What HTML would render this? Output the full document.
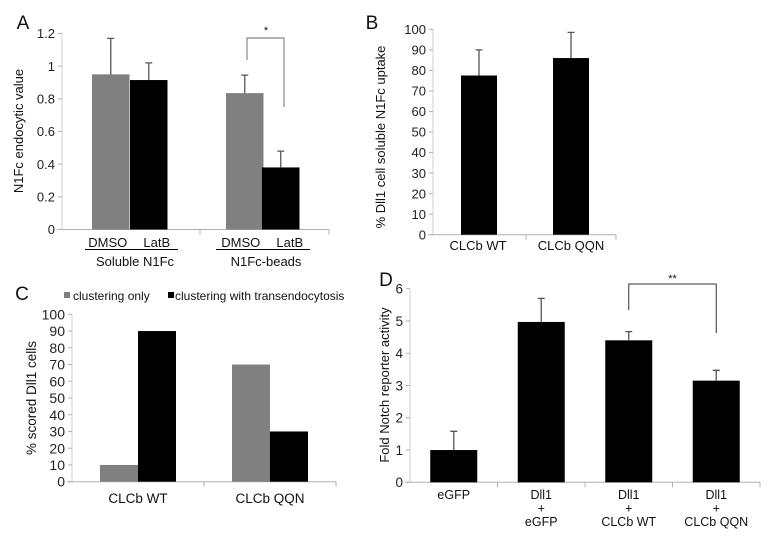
<!DOCTYPE html>
<html><head><meta charset="utf-8"><style>
html,body{margin:0;padding:0;background:#fff;}
svg{display:block;font-family:"Liberation Sans",Arial,sans-serif;}
</style></head><body>
<svg id="fig" width="770" height="542" viewBox="0 0 770 542" xmlns="http://www.w3.org/2000/svg">
<g id="pa"></g>
<g id="pb"></g>
<g id="pc"></g>
<g id="pd"></g>
</svg>
<script>
// Panel A data
const aCategories = ["DMSO", "LatB", "DMSO", "LatB"];
const aValues = [0.95, 0.915, 0.835, 0.38];
const aErrors = [1.17, 1.02, 0.945, 0.48];
const aTicks = ["0", "0.2", "0.4", "0.6", "0.8", "1", "1.2"];
// Panel B data
const bCategories = ["CLCb WT", "CLCb QQN"];
const bValues = [77.5, 86];
const bErrors = [90, 98.5];
const bTicks = ["0","10","20","30","40","50","60","70","80","90","100"];
// Panel C data
const cCategories = ["CLCb WT", "CLCb QQN"];
const cClusteringOnly = [10, 70];
const cTransendo = [90, 30];
const cTicks = ["0","10","20","30","40","50","60","70","80","90","100"];
// Panel D data
const dCategories = [["eGFP"], ["Dll1","+","eGFP"], ["Dll1","+","CLCb WT"], ["Dll1","+","CLCb QQN"]];
const dValues = [1.0, 4.97, 4.4, 3.15];
const dErrors = [1.58, 5.7, 4.67, 3.47];
const dTicks = ["0","1","2","3","4","5","6"];

const NS = "http://www.w3.org/2000/svg";
function mk(parent, tag, attrs, text){
  const e = document.createElementNS(NS, tag);
  for (const k in attrs) e.setAttribute(k, attrs[k]);
  if (text !== undefined) e.textContent = text;
  parent.appendChild(e);
  return e;
}
function yScale(y0, y1, max){ return v => y0 - (v/max)*(y0-y1); }

function axes(g, x0, x1, y0, y1, ticks, max, dividers, fs){
  const ys = yScale(y0, y1, max);
  const ya = mk(g,"line",{x1:x0,y1:y0,x2:x0,y2:y1,stroke:"#d0d0d0","stroke-width":1});
  
  
  const xa = mk(g,"line",{x1:x0-5,y1:y0,x2:x1,y2:y0,stroke:"#b0b0b0","stroke-width":1});
  
  
  ticks.forEach(t=>{
    const y = ys(parseFloat(t));
    const tk = mk(g,"line",{x1:x0-4,y1:y,x2:x0,y2:y,stroke:"#b0b0b0"});
    
    
    const tl = mk(g,"text",{x:x0-7,y:y+fs*0.36,"text-anchor":"end","font-size":fs,fill:"#222"},t);
    
    
  });
  dividers.forEach(x=>{
    const d = mk(g,"line",{x1:x,y1:y0,x2:x,y2:y0+5,stroke:"#b0b0b0"});
    
    
  });
  return ys;
}
function bar(g, x, w, ys, v, err, fill, name){
  const r = mk(g,"rect",{x:x,y:ys(v),width:w,height:ys(0)-ys(v),fill:fill});
  
  
  if (err !== null){
    const cx = x + w/2;
    const l = mk(g,"path",{d:`M${cx},${ys(v)}V${ys(err)}M${cx-3.5},${ys(err)}H${cx+3.5}`,stroke:"#555","stroke-width":1.3,fill:"none"});
    
    
  }
}
function label(g, x, y, txt, size, name, anchor, rot){
  const a = {x:x,y:y,"font-size":size,fill:"#111","text-anchor":anchor||"middle"};
  if (rot) a.transform = `rotate(-90 ${x} ${y})`;
  const t = mk(g,"text",a,txt);
  
  
  return t;
}

// ---- Panel A
(function(){
  const g = document.getElementById("pa");
  const ys = axes(g, 62, 329, 229.5, 33.5, aTicks, 1.2, [200, 329], 13);
  const xs = [92, 130, 226, 262], w = 37.5;
  const offs = [-3, 8, -4, 9];
  aValues.forEach((v,i)=>bar(g, xs[i], w, ys, v, aErrors[i], i%2===0?"#808080":"#000", "bar-a-"+i));
  aCategories.forEach((c,i)=>label(g, xs[i]+w/2 + offs[i], 247, c, 13, "x-label-a"));
  const l1 = mk(g,"line",{x1:85,y1:249.5,x2:178,y2:249.5,stroke:"#000"});
   
  const l2 = mk(g,"line",{x1:216,y1:249.5,x2:310,y2:249.5,stroke:"#000"});
   
  label(g, 135, 266, "Soluble N1Fc", 13, "group-label");
  label(g, 266, 266, "N1Fc-beads", 13, "group-label");
  const br = mk(g,"path",{d:"M247,60V38H284V107",stroke:"#888",fill:"none","stroke-width":1.2});
   
  label(g, 266, 34, "*", 11, "significance-star");
  label(g, 23, 131, "N1Fc endocytic value", 13, "y-axis-title", "middle", true);
  label(g, 23, 29, "A", 19, "panel-label");
})();

// ---- Panel B
(function(){
  const g = document.getElementById("pb");
  const ys = axes(g, 433, 616, 234.7, 29.3, bTicks, 100, [526, 616], 13);
  const xs = [461, 553], w = 36;
  bValues.forEach((v,i)=>bar(g, xs[i], w, ys, v, bErrors[i], "#000", "bar-b-"+i));
  bCategories.forEach((c,i)=>label(g, 478 + i*93, 250, c, 13, "x-label-b"));
  label(g, 385, 137, "% Dll1 cell soluble N1Fc uptake", 13, "y-axis-title", "middle", true);
  label(g, 372, 29, "B", 19, "panel-label");
})();

// ---- Panel C
(function(){
  const g = document.getElementById("pc");
  const ys = axes(g, 72, 336, 481.7, 314.3, cTicks, 100, [204, 336], 14);
  const starts = [100, 232], w = 38;
  cCategories.forEach((c,i)=>{
    bar(g, starts[i], w, ys, cClusteringOnly[i], null, "#808080", "bar-c-clustering-only-"+i);
    bar(g, starts[i]+w, w, ys, cTransendo[i], null, "#000", "bar-c-transendocytosis-"+i);
    label(g, starts[i]+w, 503, c, 13.5, "x-label-c");
  });
  const s1 = mk(g,"rect",{x:64,y:292,width:6,height:6,fill:"#808080"});
   
  label(g, 73, 300, "clustering only", 12, "legend-entry", "start");
  const s2 = mk(g,"rect",{x:168,y:292,width:6,height:6,fill:"#000"});
   
  label(g, 175, 300, "clustering with transendocytosis", 12, "legend-entry", "start");
  label(g, 36, 398, "% scored Dll1 cells", 13.5, "y-axis-title", "middle", true);
  label(g, 22, 300, "C", 19, "panel-label");
})();

// ---- Panel D
(function(){
  const g = document.getElementById("pd");
  const x0 = 410, x1 = 760, n = dCategories.length, band = (x1-x0)/n;
  const divs = []; for (let i=1;i<=n;i++) divs.push(x0+band*i);
  const ys = axes(g, x0, x1, 482.3, 288.7, dTicks, 6, divs, 13.5);
  const w = 47;
  dValues.forEach((v,i)=>{
    const cx = x0 + band*(i+0.5);
    bar(g, cx-w/2, w, ys, v, dErrors[i], "#000", "bar-d-"+i);
    dCategories[i].forEach((line,j)=>label(g, cx, 499 + j*13.5, line, 12.5, "x-label-d"));
  });
  const cxA = x0 + band*2.5, cxB = x0 + band*3.5;
  const br = mk(g,"path",{d:`M${cxA},310V284H${cxB}V333`,stroke:"#333",fill:"none","stroke-width":1});
   
  label(g, (cxA+cxB)/2, 282, "**", 11, "significance-stars");
  label(g, 389, 385, "Fold Notch reporter activity", 13, "y-axis-title", "middle", true);
  label(g, 386, 286, "D", 19, "panel-label");
})();
</script>
</body></html>
